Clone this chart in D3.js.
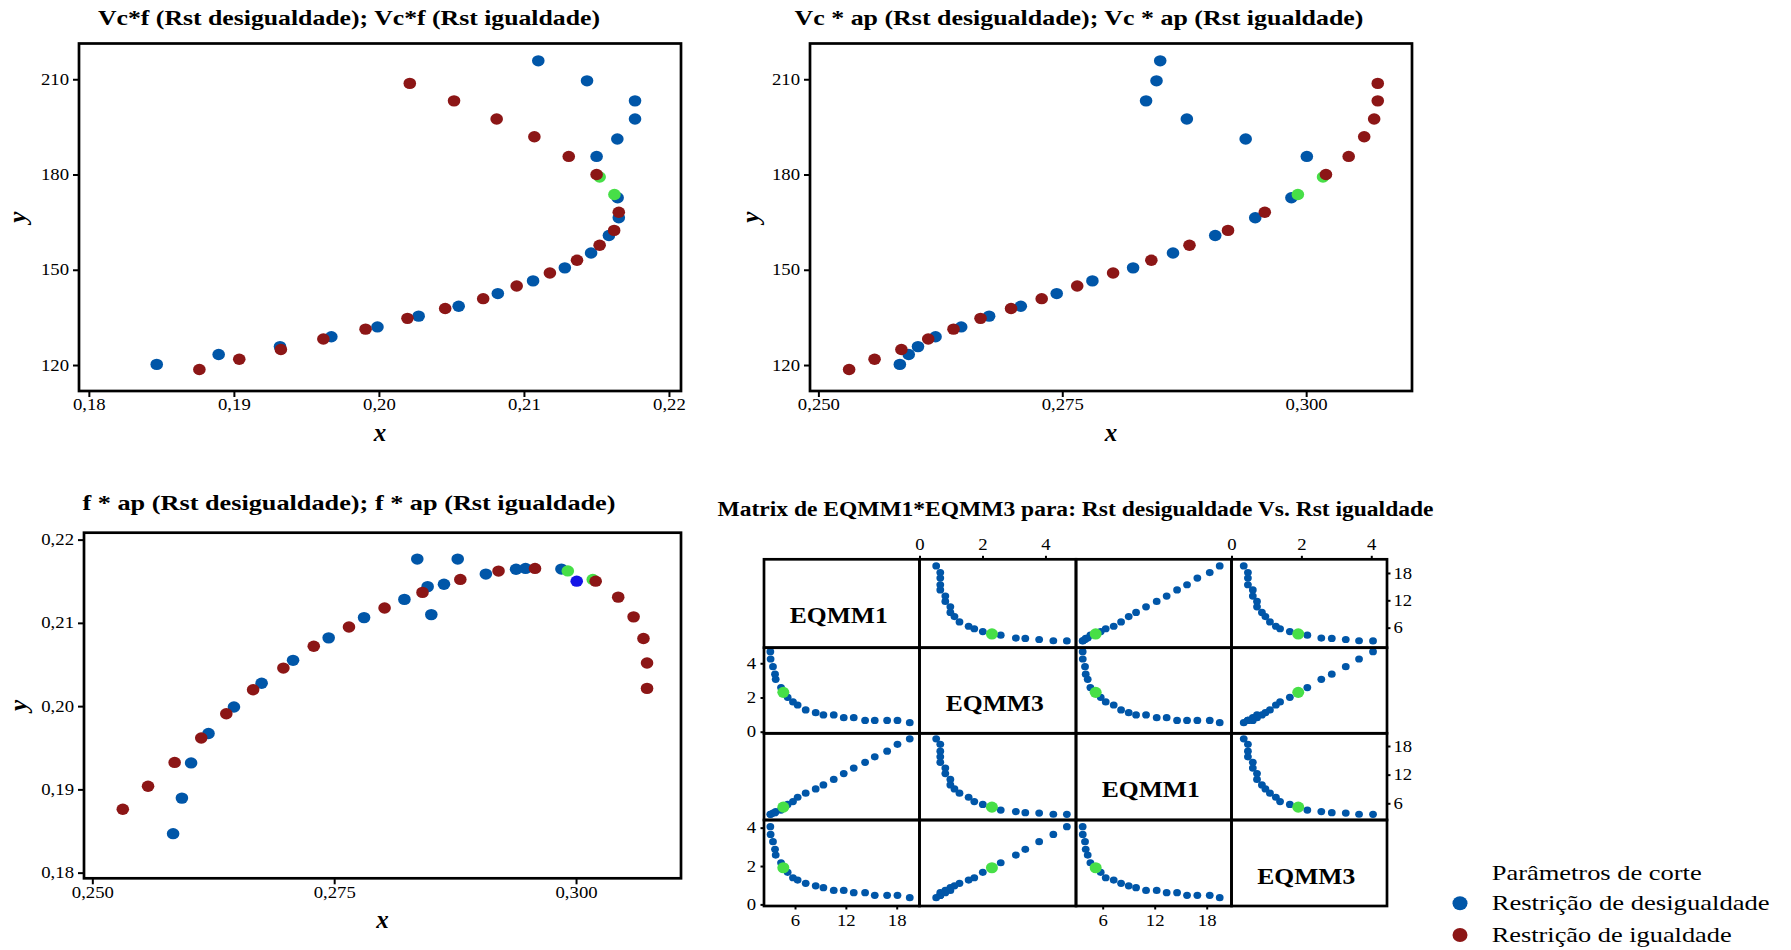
<!DOCTYPE html>
<html>
<head>
<meta charset="utf-8">
<script src="https://cdn.jsdelivr.net/npm/d3@7"></script>
<style>
html,body{margin:0;padding:0;background:#fff;}
svg{display:block;}
</style>
</head>
<body>
<svg id="chart" width="1791" height="950"></svg>
<script>
// ---------------- DATA ----------------
// Restrição de desigualdade (blue)
const vcDes = [120.2, 123.3, 125.8, 128.9, 132.0, 135.4, 138.5, 142.5, 146.5, 150.6, 155.3, 160.8, 166.4, 172.7, 185.7, 191.2, 197.5, 203.2, 209.5, 215.8];
const fDes  = [0.18468, 0.18895, 0.19318, 0.19672, 0.19990, 0.20274, 0.20550, 0.20820, 0.21063, 0.21282, 0.21463, 0.21586, 0.21654, 0.21646, 0.21501, 0.21644, 0.21766, 0.21766, 0.21435, 0.21099];
const apDes = [0.25835, 0.25926, 0.26021, 0.26201, 0.26464, 0.26750, 0.27075, 0.27443, 0.27809, 0.28226, 0.28635, 0.29068, 0.29478, 0.29849, 0.30007, 0.29380, 0.28777, 0.28359, 0.28466, 0.28504];
// Restrição de igualdade (red)
const vcIgu = [118.6, 121.8, 124.9, 128.2, 131.3, 134.7, 137.8, 140.9, 144.9, 149.0, 153.0, 157.7, 162.4, 168.1, 180.0, 185.7, 191.9, 197.5, 203.2, 208.7];
const fIgu  = [0.18762, 0.19037, 0.19324, 0.19617, 0.19908, 0.20197, 0.20457, 0.20719, 0.20950, 0.21179, 0.21366, 0.21522, 0.21622, 0.21654, 0.21501, 0.21309, 0.21072, 0.20812, 0.20518, 0.20213];
const apIgu = [0.25315, 0.25576, 0.25851, 0.26126, 0.26385, 0.26662, 0.26975, 0.27289, 0.27653, 0.28021, 0.28413, 0.28804, 0.29199, 0.29576, 0.30203, 0.30436, 0.30595, 0.30697, 0.30734, 0.30734];
// selected optimum points (green)
const vcOpt = [173.7, 179.2];
const fOpt  = [0.21624, 0.21522];
const apOpt = [0.29915, 0.30173];
// index of the desigualdade point drawn highlighted in the f*ap panel
const highlightIndex = 14;

// Matrix EQMM1 / EQMM3
const e1Des = [3.09, 3.12, 3.40, 3.64, 3.72, 4.35, 5.13, 5.76, 6.31, 7.26, 8.44, 9.35, 10.57, 11.75, 12.93, 14.27, 15.41, 16.87, 18.09, 19.54];
const e3Des = [4.68, 4.25, 3.80, 3.36, 3.06, 2.58, 2.01, 1.74, 1.56, 1.27, 1.11, 0.98, 0.98, 0.82, 0.82, 0.66, 0.66, 0.66, 0.66, 0.53];
const e1Igu = [3.69, 3.70, 3.96, 4.04, 4.27, 4.58, 5.77, 6.35, 7.27, 8.12, 9.00, 9.85, 11.00, 12.23, 13.38, 14.58, 15.73, 16.92, 18.35, 19.50];
const e3Igu = [4.05, 3.65, 3.27, 2.87, 2.57, 2.17, 1.67, 1.39, 1.27, 1.10, 0.97, 0.87, 0.73, 0.73, 0.61, 0.61, 0.47, 0.47, 0.47, 0.35];
const e1DesOpt = [4.62], e3DesOpt = [2.30], e1IguOpt = [5.19], e3IguOpt = [1.91];

// Tick values and labels
const fTicks = [0.18, 0.19, 0.20, 0.21, 0.22];
const fTickLabels = ["0,18", "0,19", "0,20", "0,21", "0,22"];
const vcTicks = [120, 150, 180, 210];
const vcTickLabels = ["120", "150", "180", "210"];
const apTicks = [0.25, 0.275, 0.30];
const apTickLabels = ["0,250", "0,275", "0,300"];
const eqmm1Ticks = [6, 12, 18];
const eqmm1TickLabels = ["6", "12", "18"];
const eqmm3Ticks = [0, 2, 4];
const eqmm3TickLabels = ["0", "2", "4"];

const panelTitles = [
  "Vc*f (Rst desigualdade); Vc*f (Rst igualdade)",
  "Vc * ap (Rst desigualdade); Vc * ap (Rst igualdade)",
  "f * ap (Rst desigualdade); f * ap (Rst igualdade)"
];
const matrixTitle = "Matrix de EQMM1*EQMM3 para: Rst desigualdade Vs. Rst igualdade";
const matrixNames = ["EQMM1", "EQMM3", "EQMM1", "EQMM3"];
const legendTitle = "Parâmetros de corte";
const legendNames = ["Restrição de desigualdade", "Restrição de igualdade"];

// ---------------- STYLE ----------------
const BLUE = "#0056a8", RED = "#8c1616", GREEN = "#47df47", BRIGHT = "#1414e6";
const FONT = '"Liberation Serif","Times New Roman",Times,serif';
const SX = 1.17; // horizontal stretch of the reference text

const svg = d3.select("#chart").attr("font-family", FONT);

function stretchAxis(g, size) {
  g.attr("font-family", FONT).attr("font-size", size);
  g.select(".domain").remove();
  g.selectAll(".tick line").attr("stroke", "#000").attr("stroke-width", 2);
  g.selectAll("text").attr("fill", "#000").each(function () {
    const x = +(this.getAttribute("x") || 0);
    this.setAttribute("x", x / SX);
    this.setAttribute("transform", `scale(${SX},1)`);
  });
}
function addText(x, y, str, o) {
  const t = svg.append("text").attr("x", x).attr("y", y).text(str)
    .attr("font-family", FONT).attr("font-size", o.size)
    .attr("font-weight", o.weight || "normal").attr("font-style", o.style || "normal")
    .attr("text-anchor", o.anchor || "middle").attr("fill", "#000");
  if (o.width) t.attr("textLength", o.width).attr("lengthAdjust", o.adjust || "spacingAndGlyphs");
  if (o.rotate) t.attr("transform", `rotate(${o.rotate},${x},${y})`);
  return t;
}

// ---------------- SCATTER PANELS ----------------
const des = { vc: vcDes, f: fDes, ap: apDes };
const igu = { vc: vcIgu, f: fIgu, ap: apIgu };
const opt = { vc: vcOpt, f: fOpt, ap: apOpt };
const domains = { vc: [111.82, 221.26], f: [0.17932, 0.22083], ap: [0.24914, 0.31085] };
const tickSets = {
  vc: [vcTicks, vcTickLabels], f: [fTicks, fTickLabels], ap: [apTicks, apTickLabels]
};

const panels = [
  { title: panelTitles[0], xv: "f", yv: "vc", box: [79, 43.5, 681, 391], tx: 349, ty: 25, tw: 502, ylx: 26, xly: 440.5, hl: false },
  { title: panelTitles[1], xv: "ap", yv: "vc", box: [810, 43.5, 1412, 391], tx: 1079, ty: 25, tw: 569, ylx: 759, xly: 440.5, hl: false },
  { title: panelTitles[2], xv: "ap", yv: "f", box: [84, 532.7, 681, 878.3], tx: 349, ty: 510, tw: 533, ylx: 27, xly: 928, hl: true }
];

panels.forEach(p => {
  const [x0, y0, x1, y1] = p.box;
  const xs = d3.scaleLinear(domains[p.xv], [x0, x1]);
  const ys = d3.scaleLinear(domains[p.yv], [y1, y0]);
  const g = svg.append("g");

  addText(p.tx, p.ty, p.title, { size: 22, weight: "bold", width: p.tw });

  const xt = tickSets[p.xv], yt = tickSets[p.yv];
  g.append("g").attr("transform", `translate(0,${y1})`)
    .call(d3.axisBottom(xs).tickValues(xt[0]).tickFormat((d, i) => xt[1][i]).tickSize(6).tickPadding(2))
    .call(a => stretchAxis(a, 16));
  g.append("g").attr("transform", `translate(${x0},0)`)
    .call(d3.axisLeft(ys).tickValues(yt[0]).tickFormat((d, i) => yt[1][i]).tickSize(6).tickPadding(4))
    .call(a => stretchAxis(a, 16));

  g.append("rect").attr("x", x0).attr("y", y0).attr("width", x1 - x0).attr("height", y1 - y0)
    .attr("fill", "none").attr("stroke", "#000").attr("stroke-width", 2.7);

  const dot = (sel) => sel.attr("rx", 6.3).attr("ry", 5.7);
  g.selectAll(".bd").data(des.vc.map((_, i) => i)).join("ellipse")
    .attr("cx", i => xs(des[p.xv][i])).attr("cy", i => ys(des[p.yv][i]))
    .attr("fill", i => (p.hl && i === highlightIndex) ? BRIGHT : BLUE).call(dot);
  g.selectAll(".gd").data(opt.vc.map((_, i) => i)).join("ellipse")
    .attr("cx", i => xs(opt[p.xv][i])).attr("cy", i => ys(opt[p.yv][i]))
    .attr("fill", GREEN).call(dot);
  g.selectAll(".rd").data(igu.vc.map((_, i) => i)).join("ellipse")
    .attr("cx", i => xs(igu[p.xv][i])).attr("cy", i => ys(igu[p.yv][i]))
    .attr("fill", RED).call(dot);

  addText((x0 + x1) / 2, p.xly, "x", { size: 25, weight: "bold", style: "italic" });
  addText(p.ylx, (y0 + y1) / 2, "y", { size: 25, weight: "bold", style: "italic", rotate: -90 });
});

// ---------------- MATRIX ----------------
const mx = [764, 919.5, 1076, 1231.5, 1387];
const my = [559.3, 647.7, 733.3, 820, 906];
const mvars = [
  { vals: e1Des, opt: e1DesOpt, xDom: [2.34, 20.69], yDom: [1.6, 21.0], ticks: eqmm1Ticks, labels: eqmm1TickLabels },
  { vals: e3Des, opt: e3DesOpt, xDom: [0, 4.97], yDom: [-0.094, 4.91], ticks: eqmm3Ticks, labels: eqmm3TickLabels },
  { vals: e1Igu, opt: e1IguOpt, xDom: [2.92, 20.86], yDom: [2.5, 20.66], ticks: eqmm1Ticks, labels: eqmm1TickLabels },
  { vals: e3Igu, opt: e3IguOpt, xDom: [0, 4.45], yDom: [-0.084, 4.40], ticks: eqmm3Ticks, labels: eqmm3TickLabels }
];
const mxs = mvars.map((v, c) => d3.scaleLinear(v.xDom, [mx[c], mx[c + 1]]));
const mys = mvars.map((v, r) => d3.scaleLinear(v.yDom, [my[r + 1], my[r]]));

addText(1075.5, 516, matrixTitle, { size: 20.5, weight: "bold", width: 716 });

const mg = svg.append("g");
for (let r = 0; r < 4; r++) {
  for (let c = 0; c < 4; c++) {
    if (r === c) {
      addText((mx[c] + mx[c + 1]) / 2 - 3, my[r] + 63.5, matrixNames[r], { size: 23, weight: "bold", width: 98 });
      continue;
    }
    const cell = mg.append("g");
    cell.selectAll("ellipse").data(mvars[c].vals.map((_, i) => i)).join("ellipse")
      .attr("cx", i => mxs[c](mvars[c].vals[i])).attr("cy", i => mys[r](mvars[r].vals[i]))
      .attr("rx", 3.9).attr("ry", 3.6).attr("fill", BLUE);
    cell.append("ellipse")
      .attr("cx", mxs[c](mvars[c].opt[0])).attr("cy", mys[r](mvars[r].opt[0]))
      .attr("rx", 6).attr("ry", 5.6).attr("fill", GREEN);
  }
}
// axes
const fmtM = (v) => (d, i) => v.labels[i];
[1, 3].forEach(c => {
  mg.append("g").attr("transform", `translate(0,${my[0]})`)
    .call(d3.axisTop(mxs[c]).tickValues(mvars[c].ticks).tickFormat(fmtM(mvars[c])).tickSize(3.5).tickPadding(5.5))
    .call(a => stretchAxis(a, 16));
});
[0, 2].forEach(c => {
  mg.append("g").attr("transform", `translate(0,${my[4]})`)
    .call(d3.axisBottom(mxs[c]).tickValues(mvars[c].ticks).tickFormat(fmtM(mvars[c])).tickSize(3.5).tickPadding(5))
    .call(a => stretchAxis(a, 16));
});
[1, 3].forEach(r => {
  mg.append("g").attr("transform", `translate(${mx[0]},0)`)
    .call(d3.axisLeft(mys[r]).tickValues(mvars[r].ticks).tickFormat(fmtM(mvars[r])).tickSize(3.5).tickPadding(4.5))
    .call(a => stretchAxis(a, 16));
});
[0, 2].forEach(r => {
  mg.append("g").attr("transform", `translate(${mx[4]},0)`)
    .call(d3.axisRight(mys[r]).tickValues(mvars[r].ticks).tickFormat(fmtM(mvars[r])).tickSize(3.5).tickPadding(3))
    .call(a => stretchAxis(a, 16));
});
// grid frame
for (let r = 0; r < 4; r++) for (let c = 0; c < 4; c++) {
  mg.append("rect").attr("x", mx[c]).attr("y", my[r])
    .attr("width", mx[c + 1] - mx[c]).attr("height", my[r + 1] - my[r])
    .attr("fill", "none").attr("stroke", "#000").attr("stroke-width", 2.7);
}

// ---------------- LEGEND ----------------
addText(1491.7, 880, legendTitle, { size: 21.5, anchor: "start", width: 210 });
const legendColors = [BLUE, RED];
const legendY = [903.3, 935];
const legendW = [278, 240];
legendNames.forEach((name, i) => {
  svg.append("ellipse").attr("cx", 1460).attr("cy", legendY[i]).attr("rx", 7.5).attr("ry", 7).attr("fill", legendColors[i]);
  addText(1491.7, legendY[i] + 6.8, name, { size: 21.5, anchor: "start", width: legendW[i] });
});
</script>
</body>
</html>
